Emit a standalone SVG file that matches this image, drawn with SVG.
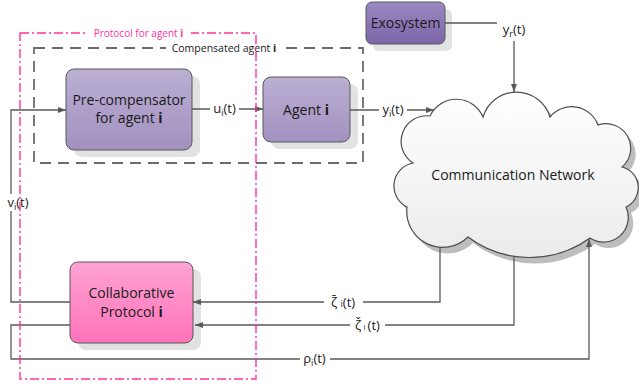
<svg xmlns="http://www.w3.org/2000/svg" width="639" height="384" viewBox="0 0 639 384">
<style>
text{font-family:"Open Sans","Noto Sans","DejaVu Sans",sans-serif;fill:#1a1a1a}
.box{stroke:#595959;stroke-width:1}
.sh{fill:#e2e2e2}
.node{font-size:14px;text-anchor:middle}
.lbl{font-size:13px;text-anchor:middle}
.bg{fill:#ffffff}
.conn{fill:none;stroke:#595959;stroke-width:1.3}
.arr{marker-end:url(#ah)}
</style>
<defs>
<linearGradient id="gPur" x1="0" y1="0" x2="0" y2="1"><stop offset="0" stop-color="#bbafd3"/><stop offset="1" stop-color="#a291c0"/></linearGradient>
<linearGradient id="gExo" x1="0" y1="0" x2="0" y2="1"><stop offset="0" stop-color="#9a89c1"/><stop offset="1" stop-color="#7b65a9"/></linearGradient>
<linearGradient id="gPink" x1="0" y1="0" x2="0" y2="1"><stop offset="0" stop-color="#ffa3d3"/><stop offset="1" stop-color="#ff72ba"/></linearGradient>
<linearGradient id="gCloud" x1="0" y1="0" x2="0" y2="1"><stop offset="0" stop-color="#ffffff"/><stop offset="1" stop-color="#ebebeb"/></linearGradient>
<marker id="ah" markerWidth="9" markerHeight="7" refX="8" refY="3" orient="auto" markerUnits="userSpaceOnUse"><path d="M0,0 L8,3 L0,6 z" fill="#595959"/></marker>
<path id="cloudPath" d="M430,116 A29,29 0 0 1 483,117 A35,35 0 0 1 550,117 A28,28 0 0 1 598,125 A24.6,24.6 0 0 1 622,167 A21.3,21.3 0 0 1 626,207 A24.7,24.7 0 0 1 590,238 A103,103 0 0 1 468,237 A36,36 0 0 1 407,207 A23.4,23.4 0 0 1 413,163 A25.6,25.6 0 0 1 430,116 Z"/>
</defs>
<rect width="639" height="384" fill="#ffffff"/>

<g id="compensated-agent">
<rect x="34" y="48" width="329" height="115" fill="none" stroke="#6b6b6b" stroke-width="1.8" stroke-dasharray="11 7"/>
<rect class="bg" x="166" y="41" width="116" height="14"/>
<text x="224" y="52" font-size="10.5" text-anchor="middle">Compensated agent <tspan font-weight="bold">i</tspan></text>
</g>

<g id="precompensator">
<rect class="sh" x="74" y="76" width="126" height="81" rx="8"/>
<rect class="box" x="66" y="69" width="126" height="81" rx="8" fill="url(#gPur)"/>
<text class="node" x="129" y="105">Pre-compensator</text>
<text class="node" x="129" y="123">for agent <tspan font-weight="bold">i</tspan></text>
</g>

<g id="agent">
<rect class="sh" x="271" y="84" width="87" height="65" rx="8"/>
<rect class="box" x="263" y="77" width="87" height="65" rx="8" fill="url(#gPur)"/>
<text class="node" x="306" y="115">Agent <tspan font-weight="bold">i</tspan></text>
</g>

<g id="exosystem">
<rect class="sh" x="373" y="9" width="79" height="42" rx="6"/>
<rect class="box" x="366" y="2" width="79" height="42" rx="6" fill="url(#gExo)"/>
<text class="node" x="405.5" y="27.5" font-size="12.5">Exosystem</text>
</g>

<g id="collaborative">
<rect class="sh" x="78" y="269" width="123" height="81" rx="8"/>
<rect class="box" x="70" y="262" width="123" height="81" rx="8" fill="url(#gPink)"/>
<text class="node" x="131.5" y="298">Collaborative</text>
<text class="node" x="131.5" y="317">Protocol <tspan font-weight="bold">i</tspan></text>
</g>

<g id="network">
<use href="#cloudPath" transform="translate(5,6)" fill="#bdbdbd"/>
<use href="#cloudPath" fill="url(#gCloud)" stroke="#4d4d4d" stroke-width="1.2"/>
<text class="node" x="513" y="180" font-size="13.5">Communication Network</text>
</g>

<g id="connectors">
<path class="conn arr" d="M70,302 H11 V110 H66"/>
<path class="conn arr" d="M192,109 H263"/>
<path class="conn arr" d="M350,110 H434"/>
<path class="conn arr" d="M445,23 H514 V92"/>
<path class="conn arr" d="M440,247 V302 H193"/>
<path class="conn arr" d="M514,256 V325 H195"/>
<path class="conn arr" d="M70,325 H11 V359 H589 V239"/>

<rect class="bg" x="5" y="194" width="26" height="17"/>
<text class="lbl" x="18" y="207">v<tspan font-size="9" dy="3">i</tspan><tspan dy="-3">(t)</tspan></text>
<rect class="bg" x="210" y="101" width="29" height="16"/>
<text class="lbl" x="224.5" y="113">u<tspan font-size="9" dy="3">i</tspan><tspan dy="-3">(t)</tspan></text>
<rect class="bg" x="379" y="102" width="28" height="16"/>
<text class="lbl" x="393" y="114">y<tspan font-size="9" dy="3">i</tspan><tspan dy="-3">(t)</tspan></text>
<rect class="bg" x="497" y="19" width="34" height="22"/>
<text class="lbl" x="514" y="34">y<tspan font-size="9" dy="3">r</tspan><tspan dy="-3">(t)</tspan></text>
<rect class="bg" x="324" y="294" width="39" height="16"/>
<text class="lbl" x="343" y="307">ζ̄ <tspan font-size="9">i</tspan>(t)</text>
<rect class="bg" x="350" y="317" width="35" height="16"/>
<text class="lbl" x="367.5" y="330">ζ̌<tspan font-size="8"> i </tspan>(t)</text>
<rect class="bg" x="300" y="351" width="30" height="17"/>
<text class="lbl" x="314.5" y="363">ρ<tspan font-size="9" dy="3">i</tspan><tspan dy="-3">(t)</tspan></text>
</g>

<g id="protocol-for-agent">
<rect x="20" y="33" width="236" height="346" fill="none" stroke="#ff3399" stroke-width="1.4" stroke-dasharray="9 3 2 3"/>
<rect class="bg" x="86" y="26" width="105" height="14"/>
<text x="138.5" y="36.5" font-size="10" text-anchor="middle" style="fill:#ff3399">Protocol for agent <tspan font-weight="bold">i</tspan></text>
</g>
</svg>
